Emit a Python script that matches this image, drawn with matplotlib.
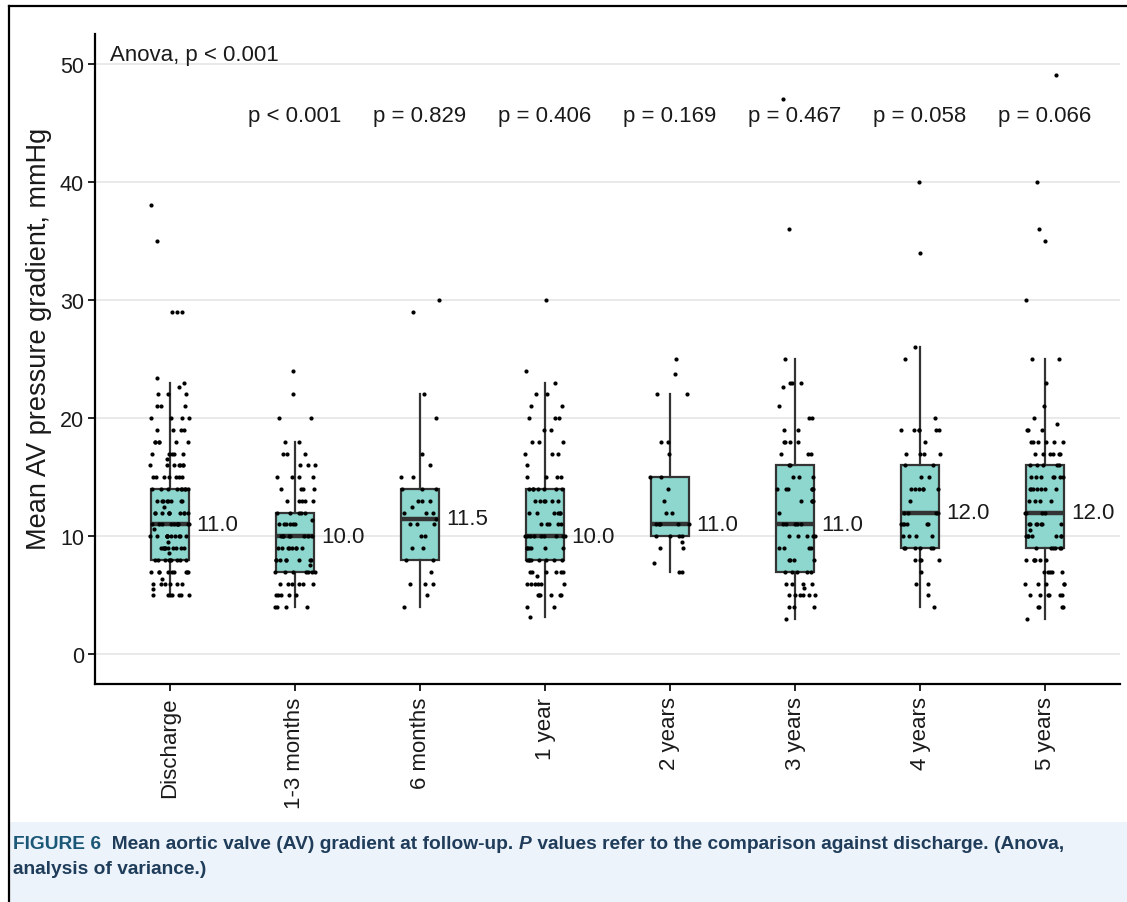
import matplotlib
matplotlib.use("Agg")
import matplotlib.pyplot as plt
import numpy as np
import pandas as pd
import seaborn as sns
from matplotlib.lines import Line2D
from matplotlib.patches import Rectangle

# ---- data -------------------------------------------------------------
groups = ["Discharge", "1-3 months", "6 months", "1 year",
          "2 years", "3 years", "4 years", "5 years"]

# box statistics (mmHg)
q1 = [8, 7, 8, 8, 10, 7, 9, 9]
medians = [11.0, 10.0, 11.5, 10.0, 11.0, 11.0, 12.0, 12.0]
q3 = [14, 12, 14, 14, 15, 16, 16, 16]
whisker_low = [5, 4, 4, 3.2, 7, 3, 4, 3]
whisker_high = [23, 18, 22, 23, 22, 25, 26, 25]

p_labels = ["p < 0.001", "p = 0.829", "p = 0.406", "p = 0.169",
            "p = 0.467", "p = 0.058", "p = 0.066"]
anova_label = "Anova, p < 0.001"

# individual measurements: value levels and how many patients at each
discharge_vals = [5, 5.5, 6, 6.4, 7, 8, 8.6, 9, 9.5, 10, 10.6, 11, 12, 12.5, 13, 14,
                  15, 16, 16.5, 17, 18, 19, 20, 21, 22, 22.6, 23, 23.4, 29, 35, 38]
discharge_n = [7, 1, 6, 1, 9, 9, 1, 10, 1, 11, 1, 10, 10, 1, 8, 9,
               7, 7, 1, 5, 6, 4, 4, 3, 3, 1, 1, 1, 3, 1, 1]

m1_3_vals = [4, 5, 6, 7, 7.6, 8, 9, 10, 11, 11.4, 12, 13, 14, 15, 16, 17, 18, 20, 22, 24]
m1_3_n = [4, 5, 6, 7, 1, 8, 8, 8, 6, 1, 5, 5, 4, 4, 3, 3, 2, 2, 1, 1]

m6_vals = [4, 5, 6, 7, 8, 9, 10, 11, 11.5, 12, 12.5, 13, 14, 15, 16, 17, 20, 22, 29, 30]
m6_n = [1, 1, 3, 1, 2, 2, 2, 3, 1, 3, 1, 3, 3, 2, 1, 1, 1, 1, 1, 1]

y1_vals = [3.2, 4, 5, 6, 6.6, 7, 8, 9, 10, 11, 12, 13, 14, 15, 16, 17, 18, 19,
           20, 21, 22, 23, 24, 30]
y1_n = [1, 2, 6, 6, 1, 6, 8, 6, 9, 5, 6, 6, 7, 4, 1, 3, 3, 2, 3, 2, 2, 1, 1, 1]

y2_vals = [7, 7.7, 9, 9.5, 10, 11, 12, 13, 14, 15, 17, 18, 22, 23.7, 25]
y2_n = [2, 1, 2, 1, 4, 5, 2, 1, 1, 2, 1, 2, 2, 1, 1]

y3_vals = [3, 4, 5, 5.6, 6, 7, 8, 9, 10, 11, 12, 13, 14, 15, 16, 17, 18, 19,
           20, 21, 22.6, 23, 25, 36, 47]
y3_n = [1, 3, 6, 1, 4, 5, 4, 4, 5, 5, 1, 4, 6, 3, 2, 3, 4, 2, 2, 1, 1, 3, 1, 1, 1]

y4_vals = [4, 5, 6, 7, 8, 9, 10, 11, 12, 13, 14, 15, 16, 17, 18, 19, 20, 25, 26, 34, 40]
y4_n = [1, 1, 2, 1, 4, 6, 4, 6, 4, 1, 6, 2, 2, 4, 1, 6, 1, 1, 1, 1, 1]

y5_vals = [3, 4, 5, 6, 7, 8, 9, 10, 10.5, 11, 12, 13, 14, 15, 16, 17, 18, 19,
           19.5, 20, 21, 23, 25, 30, 35, 36, 40, 49]
y5_n = [1, 4, 6, 5, 5, 6, 6, 7, 1, 7, 4, 4, 7, 7, 5, 6, 6, 3, 1, 1, 1, 1, 2, 1, 1, 1, 1, 1]

point_sets = [(discharge_vals, discharge_n), (m1_3_vals, m1_3_n), (m6_vals, m6_n),
              (y1_vals, y1_n), (y2_vals, y2_n), (y3_vals, y3_n),
              (y4_vals, y4_n), (y5_vals, y5_n)]

# ---- styling ----------------------------------------------------------
plt.rcParams["font.family"] = ["Liberation Sans", "DejaVu Sans"]
BOX_FILL = "#8dd7ce"
BOX_EDGE = "#333333"
GRID = "#e3e3e3"
CAPTION_BG = "#edf3fa"
CAPTION_HEAD = "#1b5777"
CAPTION_TEXT = "#1f3d5a"
INK = "#1a1a1a"

W, H = 1127, 903
fig = plt.figure(figsize=(W / 100, H / 100), dpi=100)
fig.patch.set_facecolor("white")

ax = fig.add_axes([95 / W, 1 - 685 / H, (1120 - 95) / W, (685 - 35) / H])
ax.set_facecolor("white")

# long-format table for the strip plot
rows = []
for g, (vals, counts) in zip(groups, point_sets):
    for v, c in zip(vals, counts):
        rows.extend([(g, v)] * c)
df = pd.DataFrame(rows, columns=["group", "gradient"])

# boxes
stats = []
for i, g in enumerate(groups):
    stats.append(dict(label=g, q1=q1[i], med=medians[i], q3=q3[i],
                      whislo=whisker_low[i], whishi=whisker_high[i], fliers=[]))
positions = np.arange(len(groups))
ax.bxp(stats, positions=positions, widths=0.3, showfliers=False, showcaps=False,
       patch_artist=True,
       boxprops=dict(facecolor=BOX_FILL, edgecolor=BOX_EDGE, linewidth=1.6),
       whiskerprops=dict(color=BOX_EDGE, linewidth=1.6),
       medianprops=dict(color=BOX_EDGE, linewidth=3.2, solid_capstyle="butt"),
       zorder=2)

# jittered individual points
np.random.seed(7)
sns.stripplot(data=df, x="group", y="gradient", order=groups, jitter=0.16,
              color="black", size=3.0, linewidth=0, ax=ax, zorder=3)

# median labels
for i, m in enumerate(medians):
    ax.text(positions[i] + 0.21, m, f"{m:.1f}", ha="left", va="center",
            fontsize=16, color=INK, zorder=4)

# p-values against discharge
for i, lab in enumerate(p_labels, start=1):
    ax.text(positions[i], 45.6, lab, ha="center", va="center",
            fontsize=16, color=INK, zorder=4)
ax.text(-0.48, 50.8, anova_label, ha="left", va="center", fontsize=16,
        color=INK, zorder=4)

# axes cosmetics
ax.set_xlim(-0.6, len(groups) - 0.4)
ax.set_ylim(-2.5, 52.5)
ax.set_yticks([0, 10, 20, 30, 40, 50])
ax.set_xticks(positions)
ax.set_xticklabels(groups, rotation=90, ha="center", va="top", fontsize=16,
                   color=INK)
ax.tick_params(axis="y", labelsize=15.5, labelcolor=INK, length=5,
               width=1.2, color="black", pad=3)
ax.tick_params(axis="x", length=5, width=1.2, color="black", pad=4)
ax.set_xlabel("")
ax.set_ylabel("Mean AV pressure gradient, mmHg", fontsize=19.5, color=INK)
ax.yaxis.set_label_coords(-0.042, 0.532)
ax.grid(axis="y", color=GRID, linewidth=1.1, zorder=0)
ax.grid(axis="x", visible=False)
ax.set_axisbelow(True)
for side in ("top", "right"):
    ax.spines[side].set_visible(False)
for side in ("left", "bottom"):
    ax.spines[side].set_linewidth(1.6)
    ax.spines[side].set_color("black")

# ---- frame and caption panel -----------------------------------------
fig.add_artist(Rectangle((10 / W, 0), 1, (903 - 823) / H, transform=fig.transFigure,
                         facecolor=CAPTION_BG, edgecolor="none", zorder=0))
fig.add_artist(Line2D([9 / W, 1.01], [1 - 7 / H, 1 - 7 / H], transform=fig.transFigure,
                      color="black", linewidth=1.6))
fig.add_artist(Line2D([9 / W, 9 / W], [-0.01, 1 - 7 / H], transform=fig.transFigure,
                      color="black", linewidth=1.6))

caption_font = ["Liberation Sans Narrow", "Liberation Sans", "DejaVu Sans"]
line1 = [("FIGURE 6", "bold", "normal", CAPTION_HEAD),
         ("  Mean aortic valve (AV) gradient at follow-up. ", "semibold", "normal", CAPTION_TEXT),
         ("P", "semibold", "italic", CAPTION_TEXT),
         (" values refer to the comparison against discharge. (Anova,", "semibold", "normal", CAPTION_TEXT)]
line2 = [("analysis of variance.)", "semibold", "normal", CAPTION_TEXT)]

renderer = fig.canvas.get_renderer()


def place_line(pieces, x0, y, size):
    x = x0
    for txt, weight, style, col in pieces:
        t = fig.text(x / W, 1 - y / H, txt, fontsize=size, fontweight=weight,
                     fontstyle=style, color=col, family=caption_font,
                     ha="left", va="center")
        x += t.get_window_extent(renderer=renderer).width
    return x


def line_width(pieces, size):
    total = 0
    for txt, weight, style, col in pieces:
        t = fig.text(0, 0, txt, fontsize=size, fontweight=weight, fontstyle=style,
                     family=caption_font)
        total += t.get_window_extent(renderer=renderer).width
        t.remove()
    return total


cap_size = 13.5
cap_size *= (1062 - 13) / line_width(line1, cap_size)
place_line(line1, 13, 845, cap_size)
place_line(line2, 13, 870, cap_size)

fig.savefig("out.png", dpi=100, facecolor="white")
